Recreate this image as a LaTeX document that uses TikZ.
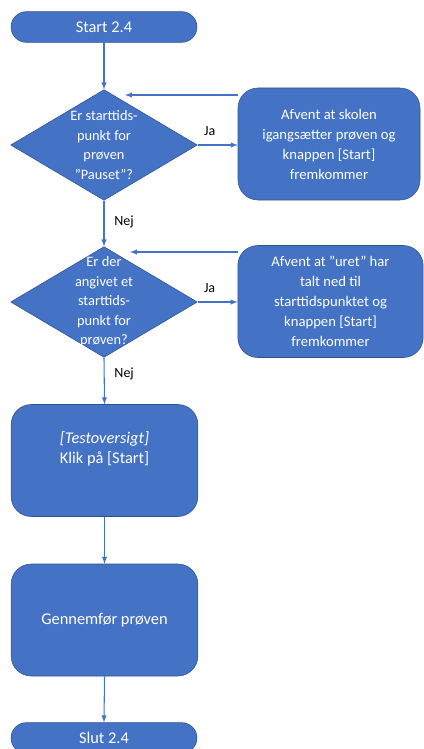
\documentclass[tikz,border=0pt]{standalone}
\usepackage{fontspec}
\setmainfont{Carlito}
\usetikzlibrary{shapes.geometric}
\definecolor{flowblue}{HTML}{4472C4}
\definecolor{flowedge}{HTML}{2F528F}
\begin{document}
\begin{tikzpicture}[x=0.75pt,y=-0.75pt]
\tikzstyle{every node}=[font=\fontsize{11}{15}\selectfont]
\tikzstyle{terminal}=[draw=flowedge, fill=flowblue, text=white, rounded corners=11.5pt, minimum width=139.5pt, minimum height=23pt, inner sep=0pt, font=\fontsize{12.3}{15}\selectfont]
\tikzstyle{decision}=[diamond, draw=flowedge, fill=flowblue, minimum width=140pt, minimum height=83pt, inner sep=0pt]
\tikzstyle{question}=[text=white, align=center, font=\fontsize{10.8}{14.6}\selectfont]
\tikzstyle{action}=[draw=flowedge, fill=flowblue, text=white, rounded corners=15pt, minimum height=84pt, align=center]
\tikzstyle{bigaction}=[action, minimum width=140pt, font=\fontsize{12.3}{15}\selectfont]
\tikzstyle{flow}=[draw=flowblue, line width=0.8pt, -latex]
\tikzstyle{answer}=[font=\fontsize{10.5}{12}\selectfont]
\useasboundingbox (0,0) rectangle (424,749);
% start
  \node[terminal] (start) at (104,27) {Start 2.4};
% decision: pauset
  \node[decision, label={[question]center:{Er starttids-\\punkt for\\prøven\\”Pauset”?}}] (pause) at (104,145) {};
  \node[action, minimum width=136.5pt] (wait1) at (329,144)%
{Afvent at skolen\\igangsætter prøven og\\knappen [Start]\\fremkommer};
% decision: starttidspunkt
  \node[decision, label={[question]center:{Er der\\angivet et\\starttids-\\punkt for\\prøven?}}] (time) at (104,302) {};
  \node[action, minimum width=139pt] (wait2) at (330.5,301.5)%
{Afvent at ”uret” har\\talt ned til\\starttidspunktet og\\knappen [Start]\\fremkommer};
% testoversigt
  \node[bigaction] (click) at (104.5,460.5)%
{\textit{[Testoversigt]}\\Klik på [Start]\\ \strut};
% gennemfoer
  \node[bigaction] (run) at (104.5,620) {Gennemfør prøven};
% slut
  \node[terminal] (stop) at (104,738) {Slut 2.4};
  \coordinate (back1) at (125,95);
  \coordinate (back2) at (130,252);
%%%%%%%%%%%%%%%%
\draw[flow] (start.south) -- (pause.north);
\draw[flow] (pause.east) -- node[answer, above=3pt, pos=0.3] {Ja} (pause.east -| wait1.west);
\draw[flow] (wait1.west |- back1) -- (back1);
\draw[flow] (pause.south) -- node[answer, right=4pt, pos=0.47] {Nej} (time.north);
\draw[flow] (time.east) -- node[answer, above=3pt, pos=0.3] {Ja} (time.east -| wait2.west);
\draw[flow] (wait2.west |- back2) -- (back2);
\draw[flow] (time.south) -- node[answer, right=4pt, pos=0.34] {Nej} (click.north);
\draw[flow] (click.south) -- (run.north);
\draw[flow] (run.south) -- (stop.north);
\end{tikzpicture}
\end{document}
